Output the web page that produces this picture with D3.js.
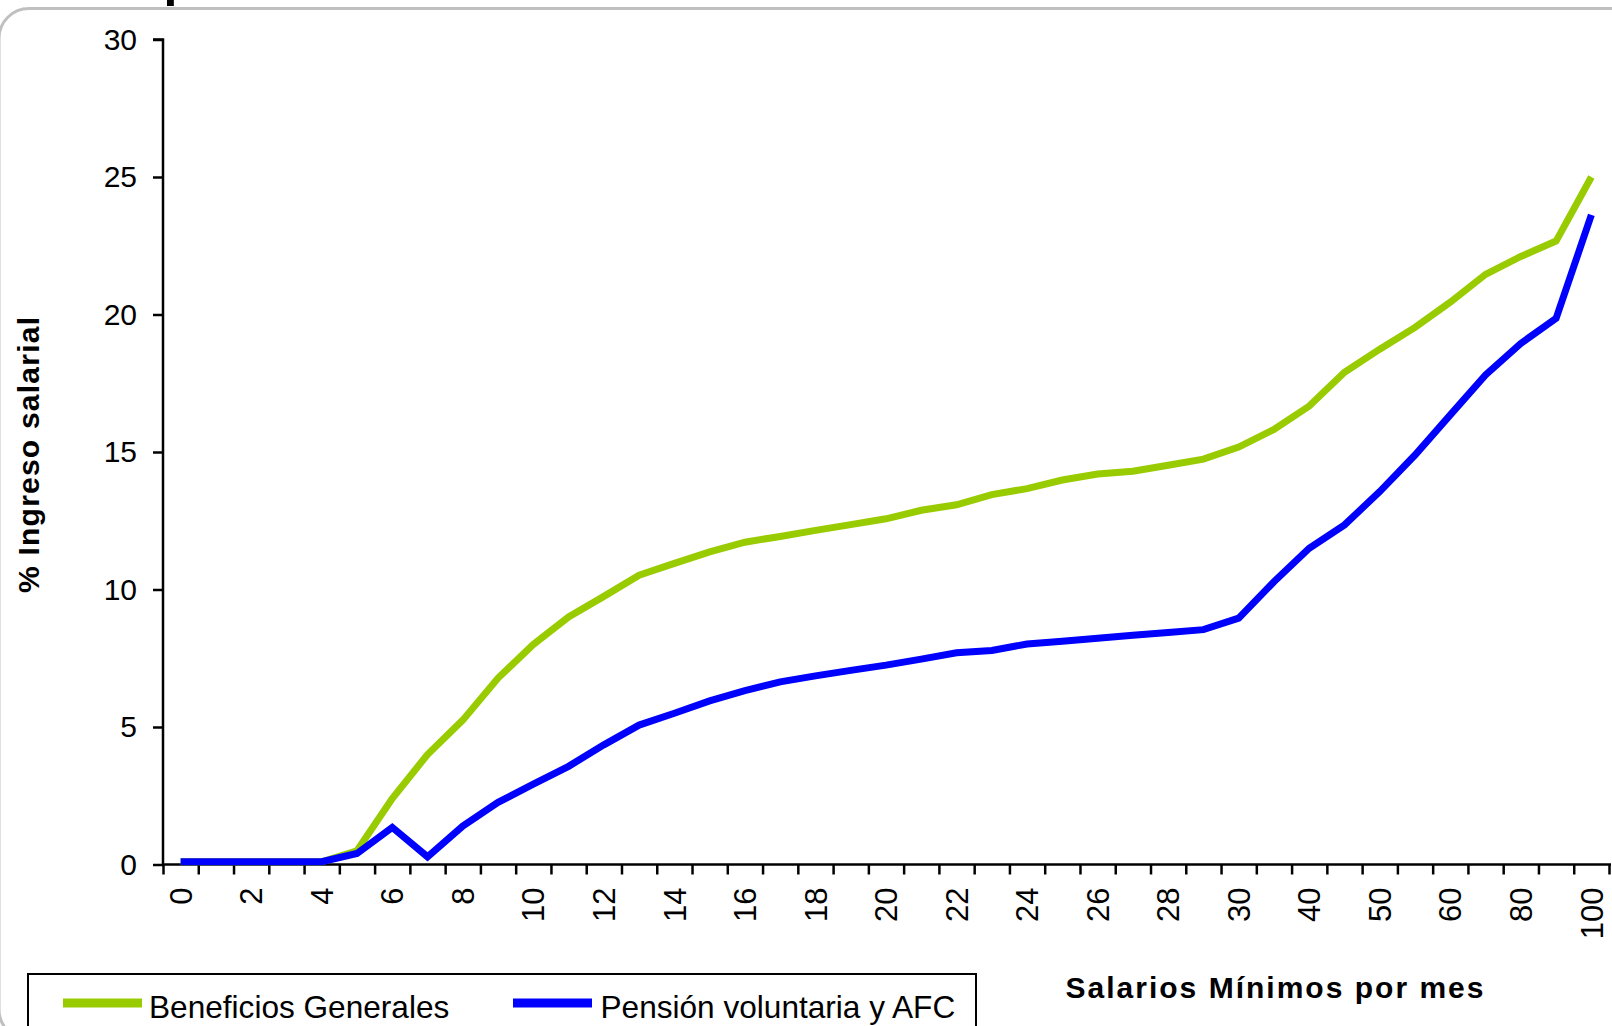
<!DOCTYPE html>
<html>
<head>
<meta charset="utf-8">
<script src="https://cdn.jsdelivr.net/npm/d3@7"></script>
<style>
  html, body { margin: 0; padding: 0; background: #fff; }
  svg { display: block; }
  text { font-family: "Liberation Sans", Arial, sans-serif; fill: #000; }
</style>
</head>
<body>
<svg id="chart" width="1612" height="1026"></svg>
<script>
// Salarios mínimos por mes (categories along the x axis)
const categories = ["0","1","2","3","4","5","6","7","8","9","10","11","12","13","14","15",
  "16","17","18","19","20","21","22","23","24","25","26","27","28","29","30",
  "35","40","45","50","55","60","70","80","90","100"];

// Labels printed under the axis
const tickLabels = ["0","2","4","6","8","10","12","14","16","18","20","22","24","26","28","30",
  "40","50","60","80","100"];

// % of salary income
const beneficiosGenerales = [0.1, 0.1, 0.1, 0.1, 0.1, 0.5, 2.4, 4.0, 5.25, 6.78,
  8.0, 9.0, 9.75, 10.52, 10.95, 11.37, 11.72, 11.93, 12.15, 12.36,
  12.57, 12.88, 13.08, 13.45, 13.67, 13.98, 14.2, 14.3, 14.52, 14.74,
  15.18, 15.82, 16.67, 17.9, 18.74, 19.53, 20.45, 21.46, 22.11, 22.67, 25.0];

const pensionVoluntariaAFC = [0.1, 0.1, 0.1, 0.1, 0.1, 0.4, 1.35, 0.28, 1.4, 2.26,
  2.92, 3.57, 4.35, 5.07, 5.5, 5.95, 6.32, 6.64, 6.86, 7.06,
  7.25, 7.47, 7.7, 7.78, 8.02, 8.12, 8.23, 8.34, 8.44, 8.54,
  8.96, 10.28, 11.5, 12.35, 13.56, 14.89, 16.35, 17.8, 18.95, 19.86, 23.62];

const yTicks = [0, 5, 10, 15, 20, 25, 30];

const seriesNames = ["Beneficios Generales", "Pensión voluntaria y AFC"];
const seriesColors = ["#99CC00", "#0000FF"];
const seriesData = [beneficiosGenerales, pensionVoluntariaAFC];

const svg = d3.select("#chart");
const plotLeft = 163, plotRight = 1609, plotTop = 39.5, plotBottom = 864.5;

// outer rounded frame
svg.append("rect")
  .attr("x", -1).attr("y", 8.5).attr("width", 1700).attr("height", 1031)
  .attr("rx", 30).attr("ry", 30)
  .attr("fill", "none").attr("stroke", "#c0c0c0").attr("stroke-width", 3);

// descender of the heading above the frame
svg.append("text")
  .attr("x", 163.5).attr("y", -4)
  .style("font-size", "50px").style("font-weight", "bold")
  .text("p");

const x = d3.scaleBand().domain(categories).range([plotLeft, plotRight]).paddingInner(0).paddingOuter(0);
const xIdx = d3.scaleLinear().domain([0, categories.length]).range([plotLeft, plotRight]);
const y = d3.scaleLinear().domain([0, 30]).range([plotBottom, plotTop]);

// y axis
const yAxis = svg.append("g")
  .attr("transform", `translate(${plotLeft},0)`)
  .call(d3.axisLeft(y).tickValues(yTicks).tickSize(10).tickPadding(16).tickFormat(d3.format("d")));
yAxis.select(".domain").attr("stroke", "#000").attr("stroke-width", 2.5)
  .attr("d", `M-10,${plotTop}H0V${plotBottom}`);
yAxis.selectAll(".tick line").attr("stroke", "#000").attr("stroke-width", 2.5);
yAxis.selectAll(".tick text").style("font-size", "30px");
yAxis.attr("font-family", null).attr("font-size", null);

// x axis: boundary ticks
const xTickAxis = svg.append("g")
  .attr("transform", `translate(0,${plotBottom})`)
  .call(d3.axisBottom(xIdx).tickValues(d3.range(categories.length + 1)).tickSize(10).tickFormat(""));
xTickAxis.select(".domain").attr("stroke", "#000").attr("stroke-width", 2.5)
  .attr("d", `M${plotLeft},0H${plotRight + 2}`);
xTickAxis.selectAll(".tick line").attr("stroke", "#000").attr("stroke-width", 2.5);

// x axis: category labels
const xLabelAxis = svg.append("g")
  .attr("transform", `translate(0,${plotBottom})`)
  .call(d3.axisBottom(x).tickValues(tickLabels).tickSize(0));
xLabelAxis.attr("font-family", null).attr("font-size", null);
xLabelAxis.select(".domain").remove();
xLabelAxis.selectAll(".tick text")
  .style("font-size", "31px")
  .attr("x", 0).attr("y", 0).attr("dy", "0.36em")
  .attr("text-anchor", "end")
  .attr("transform", "translate(0,23) rotate(-90)");

// series lines
const line = d3.line()
  .x((d, i) => x(categories[i]) + x.bandwidth() / 2)
  .y(d => y(d));

seriesData.forEach((data, k) => {
  svg.append("path")
    .datum(data)
    .attr("d", line)
    .attr("fill", "none")
    .attr("stroke", seriesColors[k])
    .attr("stroke-width", 7)
    .attr("stroke-linejoin", "miter")
    .attr("stroke-linecap", "butt");
});

// axis titles
svg.append("text")
  .attr("transform", "translate(39,455) rotate(-90)")
  .attr("text-anchor", "middle")
  .attr("textLength", 276).attr("lengthAdjust", "spacing")
  .style("font-size", "30px").style("font-weight", "bold")
  .text("% Ingreso salarial");

svg.append("text")
  .attr("x", 1065.5).attr("y", 998)
  .attr("textLength", 418).attr("lengthAdjust", "spacing")
  .style("font-size", "30px").style("font-weight", "bold")
  .text("Salarios Mínimos por mes");

// legend
const legend = svg.append("g");
legend.append("rect")
  .attr("x", 28).attr("y", 974).attr("width", 948).attr("height", 90)
  .attr("fill", "#fff").attr("stroke", "#000").attr("stroke-width", 2);

const legendItems = [
  { name: seriesNames[0], color: seriesColors[0], x0: 63, x1: 142, tx: 149 },
  { name: seriesNames[1], color: seriesColors[1], x0: 513, x1: 592, tx: 600.5 }
];
legendItems.forEach(it => {
  legend.append("line")
    .attr("x1", it.x0).attr("x2", it.x1).attr("y1", 1003).attr("y2", 1003)
    .attr("stroke", it.color).attr("stroke-width", 9);
  legend.append("text")
    .attr("x", it.tx).attr("y", 1018)
    .style("font-size", "31.6px")
    .text(it.name);
});
</script>
</body>
</html>
